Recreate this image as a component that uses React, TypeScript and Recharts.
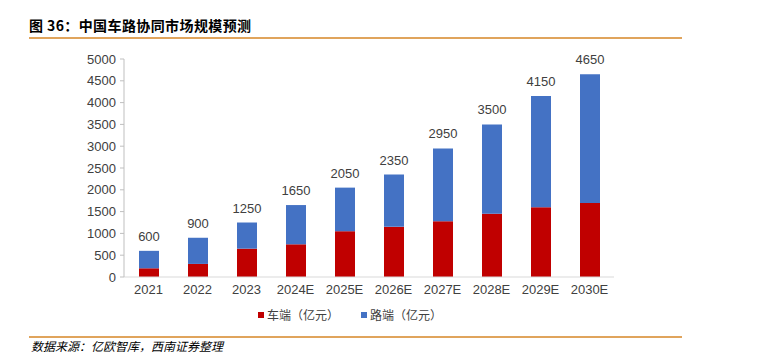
import { BarChart, Bar, XAxis, YAxis, LabelList } from 'recharts'

const years = ['2021', '2022', '2023', '2024E', '2025E', '2026E', '2027E', '2028E', '2029E', '2030E']
const carEnd = [200, 300, 650, 750, 1050, 1150, 1280, 1450, 1600, 1700]
const roadEnd = [400, 600, 600, 900, 1000, 1200, 1670, 2050, 2550, 2950]
const totals = [600, 900, 1250, 1650, 2050, 2350, 2950, 3500, 4150, 4650]
const yTicks = [0, 500, 1000, 1500, 2000, 2500, 3000, 3500, 4000, 4500, 5000]

const series = [
  { key: 'car', name: '车端（亿元）', color: '#C00000' },
  { key: 'road', name: '路端（亿元）', color: '#4472C4' },
]

const data = years.map((year, i) => ({
  year,
  car: carEnd[i],
  road: roadEnd[i],
  total: totals[i],
}))

const TICK_FONT = '"Liberation Sans", Arial, sans-serif'
const CJK_FONT = '"Noto Sans CJK SC", "Noto Sans", sans-serif'

export default function App() {
  return (
    <div style={{ position: 'absolute', left: 0, top: 0, width: 757, height: 354, background: '#fff', overflow: 'hidden' }}>
      <div
        style={{
          position: 'absolute',
          left: 29,
          top: 15,
          fontFamily: CJK_FONT,
          fontWeight: 700,
          fontSize: 14,
          letterSpacing: 0.4,
          color: '#000',
          whiteSpace: 'nowrap',
        }}
      >
        图 36：中国车路协同市场规模预测
      </div>
      <div style={{ position: 'absolute', left: 29, top: 37, width: 653, height: 2, background: '#E0A45C' }} />

      <BarChart
        width={757}
        height={354}
        data={data}
        margin={{ top: 59, right: 143, bottom: 47, left: 64 }}
        style={{ position: 'absolute', left: 0, top: 0 }}
      >
        <XAxis
          dataKey="year"
          tickLine={false}
          axisLine={{ stroke: '#D9D9D9' }}
          tick={{ fill: '#404040', fontSize: 13, fontFamily: TICK_FONT }}
          height={30}
          interval={0}
        />
        <YAxis
          domain={[0, 5000]}
          ticks={yTicks}
          width={60}
          tickSize={4}
          tickMargin={4}
          tickLine={{ stroke: '#BFBFBF' }}
          axisLine={{ stroke: '#BFBFBF' }}
          tick={{ fill: '#404040', fontSize: 13, fontFamily: TICK_FONT }}
          interval={0}
        />
        <Bar dataKey="car" name={series[0].name} stackId="a" fill={series[0].color} barSize={20} isAnimationActive={false} />
        <Bar dataKey="road" name={series[1].name} stackId="a" fill={series[1].color} barSize={20} isAnimationActive={false}>
          <LabelList
            dataKey="total"
            position="top"
            offset={10}
            style={{ fill: '#404040', fontSize: 13, fontFamily: TICK_FONT }}
          />
        </Bar>
      </BarChart>

      <div
        style={{
          position: 'absolute',
          left: 258,
          top: 306,
          display: 'flex',
          fontFamily: CJK_FONT,
          fontSize: 12,
          color: '#404040',
          whiteSpace: 'nowrap',
        }}
      >
        {series.map((s) => (
          <div key={s.key} style={{ display: 'flex', alignItems: 'center', marginRight: 22 }}>
            <span style={{ width: 6, height: 6, background: s.color, marginRight: 3, display: 'inline-block' }} />
            <span>{s.name}</span>
          </div>
        ))}
      </div>

      <div style={{ position: 'absolute', left: 29, top: 336, width: 653, height: 2, background: '#E0A45C' }} />
      <div
        style={{
          position: 'absolute',
          left: 31,
          top: 339,
          fontFamily: CJK_FONT,
          fontStyle: 'italic',
          fontSize: 12,
          lineHeight: '14px',
          color: '#000',
          whiteSpace: 'nowrap',
        }}
      >
        数据来源：亿欧智库，西南证券整理
      </div>
    </div>
  )
}
